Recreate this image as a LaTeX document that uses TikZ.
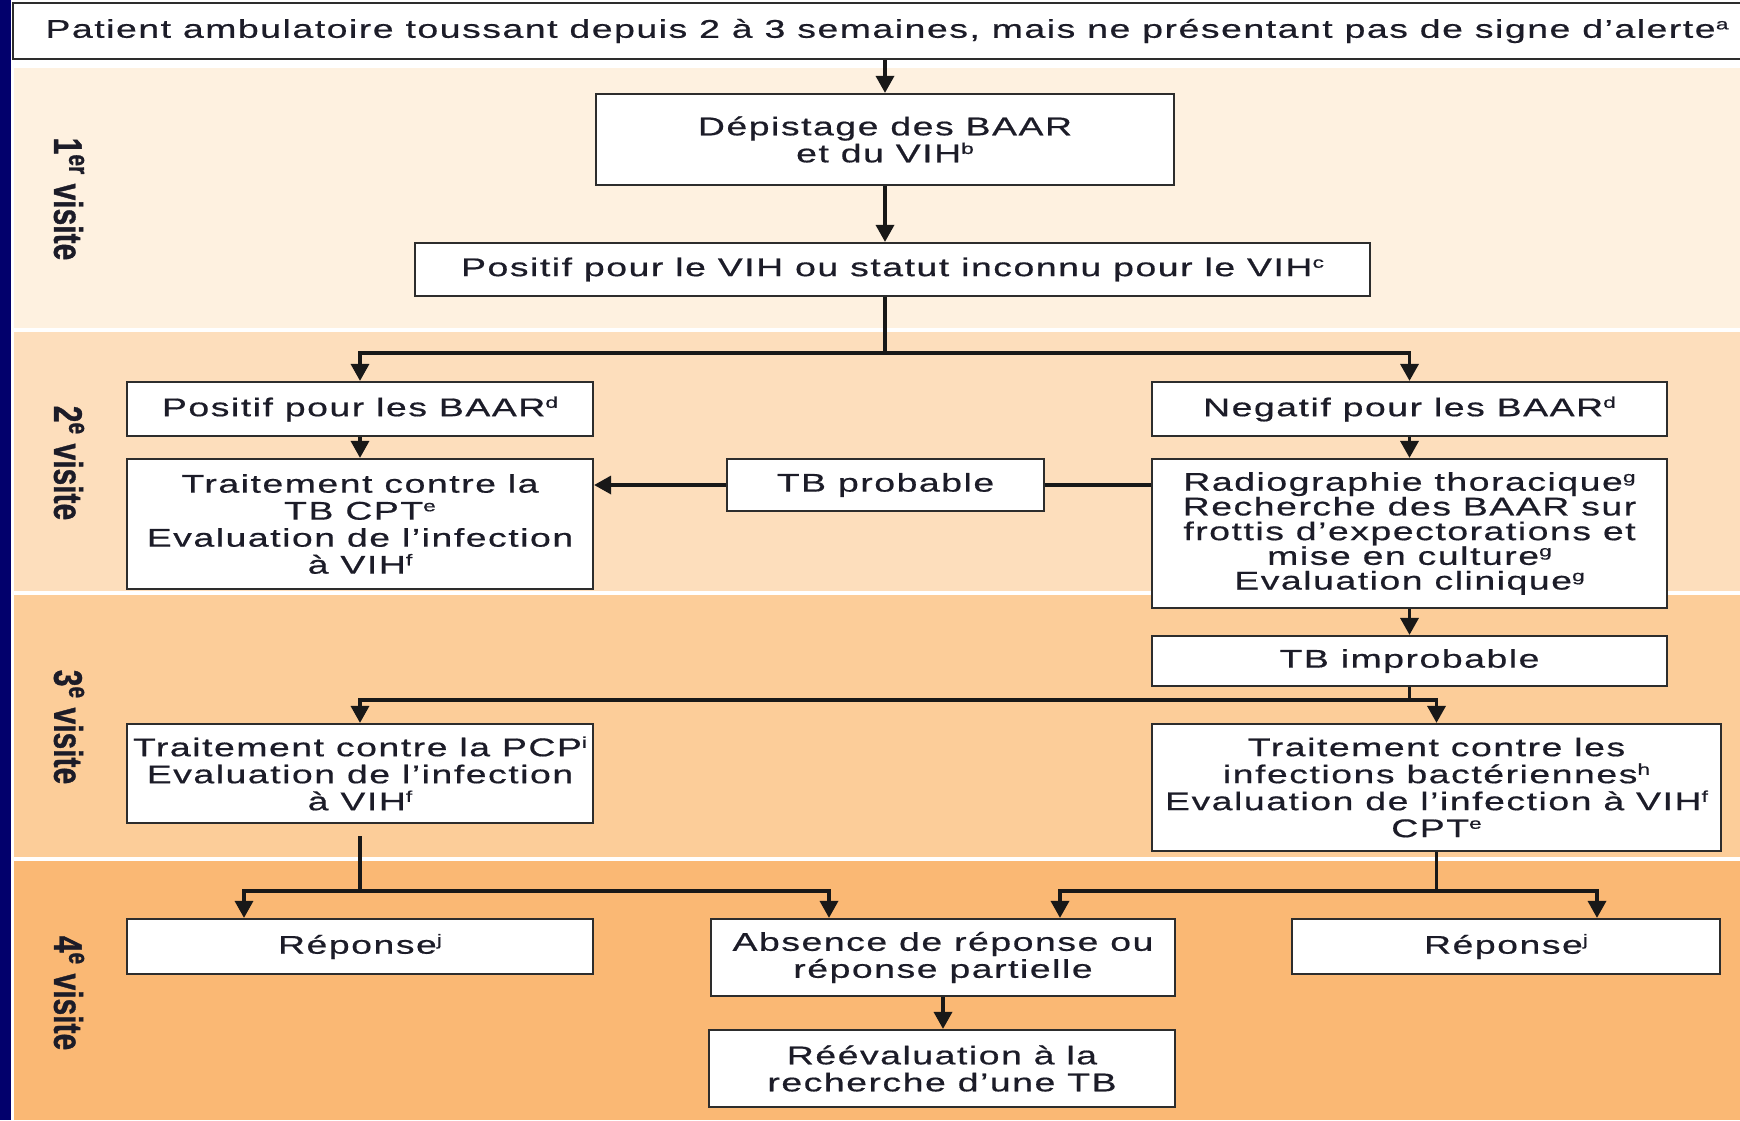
\documentclass[tikz,border=0pt]{standalone}
\usepackage{fontspec}
\usetikzlibrary{arrows.meta}
\newfontfamily\bodyfont{Liberation Sans}[FakeStretch=1.46,LetterSpace=6,FakeBold=0.6]
\newfontfamily\labfont{Liberation Sans}[FakeStretch=0.75,FakeBold=0.8]
\newcommand\supx[1]{\raisebox{0.62ex}{\fontsize{7.8}{8}\selectfont #1}}
\definecolor{navy}{RGB}{2,0,108}
\definecolor{bandA}{RGB}{254,241,224}
\definecolor{bandB}{RGB}{253,222,188}
\definecolor{bandC}{RGB}{252,205,153}
\definecolor{bandD}{RGB}{250,184,116}
\definecolor{txt}{RGB}{28,28,40}
\definecolor{boxline}{RGB}{45,45,45}
\definecolor{linec}{RGB}{24,24,24}
\begin{document}
\begin{tikzpicture}[x=0.5pt,y=-0.5pt,
  box/.style={draw=boxline, line width=1.1pt, fill=white, align=center, inner sep=0pt, text=txt,
    font=\bodyfont\fontsize{12.8}{13.5}\selectfont},
  lab/.style={font=\labfont\bfseries\fontsize{20}{22}\selectfont, text=txt, rotate=-90, inner sep=0pt},
  conn/.style={draw=linec, line width=1.7pt},
  arr/.style={conn, -{Triangle[width=9pt,length=8.5pt]}}
]
\useasboundingbox (0,0) rectangle (1740,1120);
% backgrounds
\fill[white] (0,0) rectangle (1740,1120);
\fill[navy] (0,0) rectangle (11,1120);
\fill[bandA] (14,68) rectangle (1740,328);
\fill[bandB] (14,332) rectangle (1740,591);
\fill[bandC] (14,595) rectangle (1740,857);
\fill[bandD] (14,861) rectangle (1740,1120);
% visit labels
\node[lab] (l1) at (69,199) {1\textsuperscript{er} visite};
\node[lab] (l2) at (69,463) {2\textsuperscript{e} visite};
\node[lab] (l3) at (69,727) {3\textsuperscript{e} visite};
\node[lab] (l4) at (69,993) {4\textsuperscript{e} visite};
% boxes
\node[box, minimum width=874pt, minimum height=28pt] (top) at (887,31)
  {Patient ambulatoire toussant depuis 2 à 3 semaines, mais ne présentant pas de signe d’alerte\supx{a}};
\node[box, minimum width=289pt, minimum height=45.5pt] (dep) at (885,139.5)
  {Dépistage des BAAR\\et du VIH\supx{b}};
\node[box, minimum width=477.5pt, minimum height=26.5pt] (vih) at (892.5,269.5)
  {Positif pour le VIH ou statut inconnu pour le VIH\supx{c}};
\node[box, minimum width=233pt, minimum height=27pt] (pbaar) at (360,409)
  {Positif pour les BAAR\supx{d}};
\node[box, minimum width=257.5pt, minimum height=27pt] (nbaar) at (1409.5,409)
  {Negatif pour les BAAR\supx{d}};
\node[box, minimum width=233pt, minimum height=65pt] (ttb) at (360,524)
  {Traitement contre la\\TB CPT\supx{e}\\Evaluation de l’infection\\à VIH\supx{f}};
\node[box, minimum width=158.5pt, minimum height=26pt] (tbprob) at (885.5,485)
  {TB probable};
\node[box, minimum width=257.5pt, minimum height=74.5pt,
  font=\bodyfont\fontsize{12.8}{12.35}\selectfont] (radio) at (1409.5,533.5)
  {Radiographie thoracique\supx{g}\\Recherche des BAAR sur\\frottis d’expectorations et\\mise en culture\supx{g}\\Evaluation clinique\supx{g}};
\node[box, minimum width=257.5pt, minimum height=25pt] (tbimp) at (1409.5,661)
  {TB improbable};
\node[box, minimum width=233pt, minimum height=49.5pt] (pcp) at (360,773.5)
  {Traitement contre la PCP\supx{i}\\Evaluation de l’infection\\à VIH\supx{f}};
\node[box, minimum width=284.5pt, minimum height=63.5pt] (bact) at (1436.5,787.5)
  {Traitement contre les\\infections bactériennes\supx{h}\\Evaluation de l’infection à VIH\supx{f}\\CPT\supx{e}};
\node[box, minimum width=233pt, minimum height=27.5pt] (rep1) at (360,946.5)
  {Réponse\supx{j}};
\node[box, minimum width=232pt, minimum height=38.5pt] (abs) at (943,957.5)
  {Absence de réponse ou\\réponse partielle};
\node[box, minimum width=233pt, minimum height=38.5pt] (reev) at (942,1068.5)
  {Réévaluation à la\\recherche d’une TB};
\node[box, minimum width=214pt, minimum height=27.5pt] (rep2) at (1506,946.5)
  {Réponse\supx{j}};
% junction points
\coordinate (j1) at (885,353);
\coordinate (j2) at (1409.5,700);
\coordinate (j3) at (360,891);
\coordinate (j4) at (1436.5,891);
% connectors
\draw[arr] (dep.north |- top.south) -- (dep.north);
\draw[arr] (dep.south) -- (dep.south |- vih.north);
\draw[conn] (dep.south |- vih.south) -- (j1);
\draw[arr] (j1) -| (pbaar.north);
\draw[arr] (j1) -| (nbaar.north);
\draw[arr] (pbaar.south) -- (ttb.north);
\draw[arr] (nbaar.south) -- (radio.north);
\draw[conn] (radio.west |- tbprob.east) -- (tbprob.east);
\draw[arr] (tbprob.west) -- (tbprob.west -| ttb.east);
\draw[arr] (radio.south) -- (tbimp.north);
\draw[conn] (tbimp.south) -- (j2);
\draw[arr] (j2) -| (pcp.north);
\draw[arr] (j2) -| (bact.north);
\draw[conn] ([yshift=-6pt]pcp.south) -- (j3);
\draw[arr] (j3) -| ([xshift=-58pt]rep1.north);
\draw[arr] (j3) -| ([xshift=-57pt]abs.north);
\draw[conn] (bact.south) -- (j4);
\draw[arr] (j4) -| ([xshift=58.5pt]abs.north);
\draw[arr] (j4) -| ([xshift=45.5pt]rep2.north);
\draw[arr] (abs.south) -- (abs.south |- reev.north);
\end{tikzpicture}
\end{document}
